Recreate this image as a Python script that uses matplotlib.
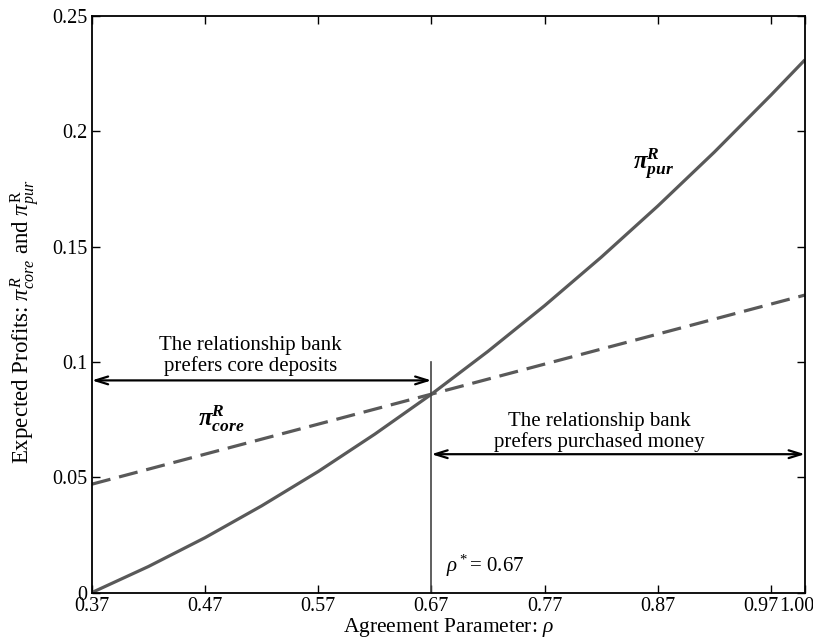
import matplotlib
matplotlib.use("Agg")
import matplotlib.pyplot as plt
from matplotlib.transforms import ScaledTranslation

plt.rcParams['font.family'] = ['Liberation Serif', 'DejaVu Serif']
plt.rcParams['mathtext.fontset'] = 'custom'
plt.rcParams['mathtext.rm'] = 'Liberation Serif'
plt.rcParams['mathtext.it'] = 'Liberation Serif:italic'
plt.rcParams['mathtext.bf'] = 'Liberation Serif:bold:italic'

# Data
rho_pur = [0.37, 0.42, 0.47, 0.52, 0.57, 0.62, 0.67, 0.72, 0.77, 0.82, 0.87, 0.92, 0.97, 1.00]
pi_pur = [0.0, 0.0113, 0.0238, 0.0376, 0.0525, 0.0687, 0.086, 0.1046, 0.1244, 0.1454, 0.1676, 0.1910, 0.2157, 0.231]
rho_core = [0.37, 1.00]
pi_core = [0.047, 0.129]
xticks = [0.37, 0.47, 0.57, 0.67, 0.77, 0.87, 0.97, 1.00]
xticklabels = ['0.37', '0.47', '0.57', '0.67', '0.77', '0.87', '0.97', '1.00']
yticks = [0, 0.05, 0.1, 0.15, 0.2, 0.25]
yticklabels = ['0', '0.05', '0.1', '0.15', '0.2', '0.25']
rho_star = 0.67

fig = plt.figure(figsize=(8.13, 6.42), dpi=100)
ax = fig.add_axes([0.113, 0.077, 0.877, 0.898])

col = '#595959'
ax.plot(rho_pur, pi_pur, color=col, lw=2.3, solid_capstyle='butt')
ax.plot(rho_core, pi_core, color=col, lw=2.3, dashes=(6, 2.8))
ax.plot([rho_star, rho_star], [0, 0.1], color='#444444', lw=1.2)

astyle = '<->,head_width=0.28,head_length=0.9'
ax.annotate('', xy=(0.37, 0.092), xytext=(rho_star, 0.092),
            arrowprops=dict(arrowstyle=astyle, color='black', lw=1.6, shrinkA=0, shrinkB=0))
ax.annotate('', xy=(rho_star, 0.06), xytext=(1.00, 0.06),
            arrowprops=dict(arrowstyle=astyle, color='black', lw=1.6, shrinkA=0, shrinkB=0))

ax.text(0.51, 0.1027, 'The relationship bank\nprefers core deposits', ha='center', va='center',
        fontsize=15, linespacing=1.05)
ax.text(0.818, 0.0695, 'The relationship bank\nprefers purchased money', ha='center', va='center',
        fontsize=15, linespacing=1.05)
ax.text(0.484, 0.0755, r'$\mathbf{\pi^{R}_{core}}$', ha='center', va='center', fontsize=18)
ax.text(0.866, 0.186, r'$\mathbf{\pi}^{\mathbf{R}}_{\mathbf{pur}}$', ha='center', va='center', fontsize=18)
ax.text(0.683, 0.0058, r'$\rho^*$= 0.67', ha='left', va='bottom', fontsize=15)

ax.set_xlim(0.37, 1.00)
ax.set_ylim(0, 0.25)
ax.set_xticks(xticks)
ax.set_xticklabels(xticklabels)
ax.set_yticks(yticks)
ax.set_yticklabels(yticklabels)
ax.tick_params(direction='in', top=True, right=True, length=6, width=1, labelsize=14.5, pad=3)
for s in ax.spines.values():
    s.set_linewidth(1.3)

labs = ax.get_xticklabels()
for lab, dx in ((labs[-2], -10), (labs[-1], -8)):
    lab.set_transform(lab.get_transform() + ScaledTranslation(dx / 100, 0, fig.dpi_scale_trans))

ax.set_xlabel(r'Agreement Parameter: $\rho$', fontsize=15.5, labelpad=0)
ax.set_ylabel(r'Expected Profits: $\pi^{R}_{core}$ and $\pi^{\mathrm{R}}_{pur}$', fontsize=16.5)
ax.yaxis.set_label_coords(-0.070, 0.47)

fig.savefig('out.png', dpi=100)
